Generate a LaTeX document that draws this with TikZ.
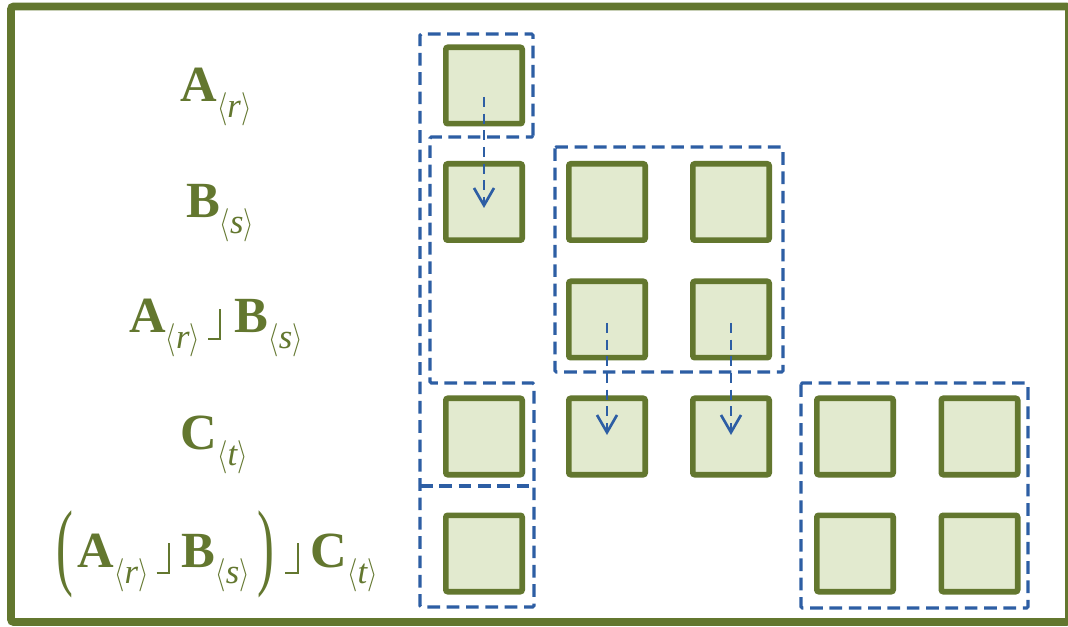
\documentclass[tikz,border=0pt]{standalone}
\usepackage{fontspec}
\usepackage{graphicx}
\setmainfont{Liberation Serif}
\usetikzlibrary{arrows.meta,calc}

\definecolor{leaf}{RGB}{99,119,47}
\definecolor{paleleaf}{RGB}{226,234,207}
\definecolor{grpblue}{RGB}{45,94,164}

% blade symbol: bold letter with a lowered grade subscript <k>
\newcommand{\bl}[2]{\textbf{#1}\raisebox{-12pt}{\fontsize{26}{26}\selectfont
  \scalebox{0.8}[1]{$\langle$}\textit{#2}\scalebox{0.8}[1]{$\rangle$}}}
% left contraction sign, built from two rules
\newcommand{\fl}{\rlap{\rule[-5pt]{10pt}{1.6pt}}\kern8.4pt\rule[-5pt]{1.6pt}{23pt}}
% tall thin parentheses
\newcommand{\lp}{\raisebox{-8pt}{\scalebox{1}[1.9]{(}}}
\newcommand{\rp}{\raisebox{-8pt}{\scalebox{1}[1.9]{)}}}

\begin{document}
\begin{tikzpicture}[x=0.75pt,y=-0.75pt,
  cell/.style={draw=leaf, fill=paleleaf, line width=4.3pt, minimum size=57.2pt,
    inner sep=0pt, rounded corners=1.5pt},
  grp/.style={draw=grpblue, line width=2.3pt, dash pattern=on 9.5pt off 5pt,
    rounded corners=1pt},
  flow/.style={draw=grpblue, line width=2pt, dash pattern=on 7.5pt off 5pt,
    -{Straight Barb[length=13pt,width=15pt]}},
  lbl/.style={text=leaf, font=\fontsize{38}{44}\selectfont, anchor=base, inner sep=0pt}]

\useasboundingbox (0,0) rectangle (1068,627);
\fill[white] (0,0) rectangle (1068,627);

% outer frame
\draw[leaf, line width=5.8pt, rounded corners=2pt] (11,6.5) rectangle (1069,622);

% row labels
\node[lbl] (la) at (216,102) {\bl{A}{r}};
\node[lbl] (lb) at (220,218) {\bl{B}{s}};
\node[lbl] (lab) at (216,333) {\bl{A}{r}\hspace{6pt}\fl\hspace{10pt}\bl{B}{s}};
\node[lbl] (lc) at (214.5,450) {\bl{C}{t}};
\node[lbl] (labc) at (217.5,567) {\lp\hspace{3pt}\bl{A}{r}\hspace{6pt}\fl\hspace{9pt}\bl{B}{s}\hspace{6pt}\rp\hspace{8pt}\fl\hspace{9pt}\bl{C}{t}};

% grade cells
\node[cell] (r1c1) at (484,85.5) {};
\node[cell] (r2c1) at (484,202) {};
\node[cell] (r2c2) at (607,202) {};
\node[cell] (r2c3) at (731,202) {};
\node[cell] (r3c2) at (607,319.5) {};
\node[cell] (r3c3) at (731,319.5) {};
\node[cell] (r4c1) at (484,436.5) {};
\node[cell] (r4c2) at (607,436.5) {};
\node[cell] (r4c3) at (731,436.5) {};
\node[cell] (r4c4) at (855,436.5) {};
\node[cell] (r4c5) at (979.5,436.5) {};
\node[cell] (r5c1) at (484,553.5) {};
\node[cell] (r5c4) at (855,553.5) {};
\node[cell] (r5c5) at (979.5,553.5) {};

% dashed groupings
\draw[grp] (533,137) -- (533,34) -- (420,34) -- (420,607) -- (534,607)
  -- (534,383) -- (430,383) -- (430,137) -- cycle;
\draw[grp] (420,486) -- (534,486);
\draw[grp] (555,147) rectangle (783,372);
\draw[grp] (801,383) rectangle (1028,608);

% flow arrows
\draw[flow] ($(r1c1)+(0,11.5)$) -- ($(r2c1)+(0,6)$);
\draw[flow] ($(r3c2)+(0,3.5)$) -- ($(r4c2)+(0,-1.5)$);
\draw[flow] ($(r3c3)+(0,3.5)$) -- ($(r4c3)+(0,-1.5)$);
\end{tikzpicture}
\end{document}
